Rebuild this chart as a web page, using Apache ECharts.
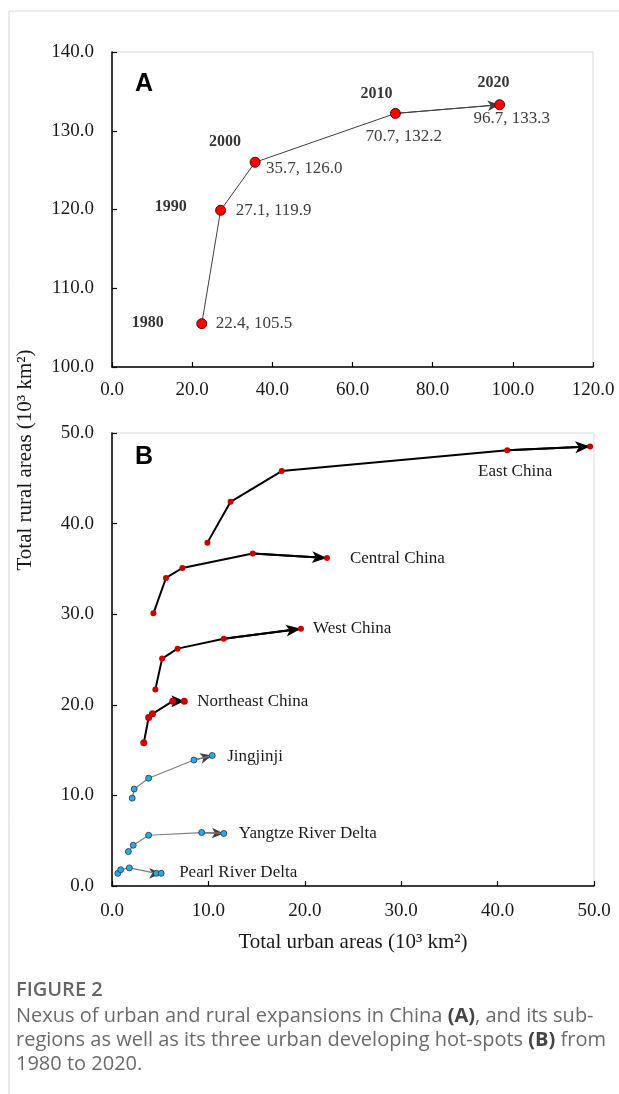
<!DOCTYPE html>
<html>
<head>
<meta charset="utf-8">
<script src="https://cdn.jsdelivr.net/npm/echarts@6/dist/echarts.min.js"></script>
<style>
  html, body { margin: 0; padding: 0; background: #fff; }
  #chart { width: 619px; height: 1094px; }
</style>
</head>
<body>
<div id="chart"></div>
<script>
// Panel A: China as a whole
const yearsA = ['1980', '1990', '2000', '2010', '2020'];
const urbanA = [22.4, 27.1, 35.7, 70.7, 96.7];
const ruralA = [105.5, 119.9, 126.0, 132.2, 133.3];

// Panel B: sub-regions and hot-spots (urban, rural)
const regionNames = ['East China', 'Central China', 'West China', 'Northeast China', 'Jingjinji', 'Yangtze River Delta', 'Pearl River Delta'];
const eastUrban = [9.9, 12.3, 17.6, 41.0, 49.6];
const eastRural = [37.9, 42.4, 45.8, 48.1, 48.5];
const centralUrban = [4.3, 5.6, 7.3, 14.6, 22.3];
const centralRural = [30.1, 34.0, 35.1, 36.7, 36.2];
const westUrban = [4.5, 5.2, 6.8, 11.6, 19.6];
const westRural = [21.7, 25.1, 26.2, 27.3, 28.4];
const northeastUrban = [3.3, 3.8, 4.2, 6.3, 7.5];
const northeastRural = [15.8, 18.6, 19.0, 20.4, 20.4];
const jingjinjiUrban = [2.1, 2.3, 3.8, 8.5, 10.4];
const jingjinjiRural = [9.7, 10.7, 11.9, 13.9, 14.4];
const yangtzeUrban = [1.7, 2.2, 3.8, 9.3, 11.6];
const yangtzeRural = [3.8, 4.5, 5.6, 5.9, 5.8];
const pearlUrban = [0.6, 0.9, 1.8, 4.6, 5.1];
const pearlRural = [1.4, 1.8, 2.0, 1.4, 1.4];

const serif = 'Liberation Serif';
const sans = 'Open Sans';

// label placement (styling only)
const yearOffsets = [[-54, -1], [-50, -3], [-30, -20], [-19, -20], [-6, -22]];
const valueOffsets = [[14, 0], [15, 0], [11, 6], [-30, 23], [-26, 14]];

function pairs(xs, ys) {
    return xs.map((x, i) => [x, ys[i]]);
}

// one line series with an arrow on its last segment
function pathSeries(xs, ys, name, opt) {
    let pts = pairs(xs, ys);
    let n = pts.length;
    let data = pts.map((p, i) => {
        if (i < n - 1 || !name) return p;
        return {
            value: p,
            label: {
                show: true,
                position: 'inside',
                align: opt.labelAlign || 'left',
                offset: opt.labelOffset,
                formatter: name,
                fontFamily: serif,
                fontSize: 17,
                color: '#1a1a1a'
            }
        };
    });
    return {
        type: 'line',
        xAxisIndex: opt.axis,
        yAxisIndex: opt.axis,
        data: data,
        z: 10,
        symbol: 'circle',
        symbolSize: opt.size,
        itemStyle: { color: opt.fill, borderColor: opt.border, borderWidth: opt.borderWidth || 0 },
        lineStyle: { color: opt.line, width: opt.width },
        markLine: {
            silent: true,
            z: 5,
            symbol: ['none', 'arrow'],
            symbolSize: opt.arrow,
            label: { show: false },
            lineStyle: { color: opt.arrowColor, width: opt.width, type: 'solid' },
            data: [[{ coord: pts[n - 2] }, { coord: pts[n - 1] }]]
        }
    };
}

const axisLineStyle = { show: true, onZero: false, lineStyle: { color: '#000', width: 1.5 } };
const tickStyle = { show: true, inside: true, length: 5, lineStyle: { color: '#000', width: 1.2 } };
const tickLabel = { fontFamily: serif, fontSize: 19, color: '#1a1a1a', formatter: v => v.toFixed(1) };

let chart = echarts.init(document.getElementById('chart'), null, { renderer: 'canvas' });

let option = {
    animation: false,
    backgroundColor: '#fff',
    grid: [
        { left: 112, top: 52, width: 481, height: 315, show: true, borderColor: '#d9d9d9', borderWidth: 1, backgroundColor: 'transparent' },
        { left: 112, top: 433, width: 482, height: 453, show: true, borderColor: '#d9d9d9', borderWidth: 1, backgroundColor: 'transparent' }
    ],
    xAxis: [
        {
            gridIndex: 0, type: 'value', min: 0, max: 120, interval: 20,
            axisLine: axisLineStyle, axisTick: tickStyle, splitLine: { show: false },
            axisLabel: Object.assign({ margin: 14 }, tickLabel)
        },
        {
            gridIndex: 1, type: 'value', min: 0, max: 50, interval: 10,
            axisLine: axisLineStyle, axisTick: tickStyle, splitLine: { show: false },
            axisLabel: Object.assign({ margin: 16 }, tickLabel),
            name: 'Total urban areas (10³ km²)', nameLocation: 'middle', nameGap: 46,
            nameTextStyle: { fontFamily: serif, fontSize: 21, color: '#1a1a1a' }
        }
    ],
    yAxis: [
        {
            gridIndex: 0, type: 'value', min: 100, max: 140, interval: 10,
            axisLine: axisLineStyle, axisTick: tickStyle, splitLine: { show: false },
            axisLabel: Object.assign({ margin: 18 }, tickLabel)
        },
        {
            gridIndex: 1, type: 'value', min: 0, max: 50, interval: 10,
            axisLine: axisLineStyle, axisTick: tickStyle, splitLine: { show: false },
            axisLabel: Object.assign({ margin: 18 }, tickLabel)
        }
    ],
    graphic: [
        { type: 'line', shape: { x1: 9, y1: 11, x2: 619, y2: 11 }, style: { stroke: '#d6d6d6', lineWidth: 1 } },
        { type: 'line', shape: { x1: 9, y1: 11, x2: 9, y2: 1094 }, style: { stroke: '#d6d6d6', lineWidth: 1 } },
        { type: 'text', left: 135, top: 72, style: { text: 'A', font: 'bold 25px "Liberation Sans"', fill: '#000' } },
        { type: 'text', left: 135, top: 445, style: { text: 'B', font: 'bold 25px "Liberation Sans"', fill: '#000' } },
        {
            type: 'text', x: 25, y: 460, rotation: Math.PI / 2,
            style: { text: 'Total rural areas (10³ km²)', font: '21px "Liberation Serif"', fill: '#1a1a1a', align: 'center', verticalAlign: 'middle' }
        },
        { type: 'text', left: 16, top: 978, style: { text: 'FIGURE 2', font: '600 20px "Open Sans"', fill: '#666', lineHeight: 24 } },
        {
            type: 'text', left: 16, top: 1004,
            style: {
                text: 'Nexus of urban and rural expansions in China {b|(A)}, and its sub-\nregions as well as its three urban developing hot-spots {b|(B)} from\n1980 to 2020.',
                font: '20px "Open Sans"', fill: '#6b6b6b', lineHeight: 24,
                rich: { b: { fontFamily: sans, fontSize: 20, fontWeight: 'bold', fill: '#444', lineHeight: 24 } }
            }
        }
    ],
    series: [
        // Panel A path
        {
            type: 'line', xAxisIndex: 0, yAxisIndex: 0, z: 10,
            data: pairs(urbanA, ruralA).map((p, i) => ({
                value: p,
                label: { offset: valueOffsets[i] }
            })),
            symbol: 'circle', symbolSize: 10,
            itemStyle: { color: '#ff0000', borderColor: '#5a0000', borderWidth: 1 },
            lineStyle: { color: '#404040', width: 1 },
            label: {
                show: true, position: 'inside', align: 'left',
                formatter: p => p.value[0].toFixed(1) + ', ' + p.value[1].toFixed(1),
                fontFamily: serif, fontSize: 17, color: '#404040'
            },
            markLine: {
                silent: true, z: 5,
                symbol: ['none', 'arrow'], symbolSize: [8, 12],
                label: { show: false },
                lineStyle: { color: '#404040', width: 1, type: 'solid' },
                data: [[{ coord: [urbanA[3], ruralA[3]] }, { coord: [urbanA[4], ruralA[4]] }]]
            }
        },
        // Panel A year labels
        {
            type: 'scatter', xAxisIndex: 0, yAxisIndex: 0, z: 11, silent: true,
            data: pairs(urbanA, ruralA).map((p, i) => ({
                value: p,
                label: { offset: yearOffsets[i] }
            })),
            symbolSize: 1,
            itemStyle: { color: 'transparent' },
            label: {
                show: true, position: 'inside', align: 'center',
                formatter: p => yearsA[p.dataIndex],
                fontFamily: serif, fontSize: 16, fontWeight: 'bold', color: '#000'
            }
        },
        // Panel B regions
        pathSeries(eastUrban, eastRural, regionNames[0], {
            axis: 1, size: 6, fill: '#cc0000', line: '#000', width: 2, arrow: [9, 15], arrowColor: '#000',
            labelAlign: 'center', labelOffset: [-75, 25]
        }),
        pathSeries(centralUrban, centralRural, regionNames[1], {
            axis: 1, size: 6, fill: '#cc0000', line: '#000', width: 2, arrow: [9, 15], arrowColor: '#000',
            labelOffset: [23, 1]
        }),
        pathSeries(westUrban, westRural, regionNames[2], {
            axis: 1, size: 6, fill: '#cc0000', line: '#000', width: 2, arrow: [9, 15], arrowColor: '#000',
            labelOffset: [12, 0]
        }),
        pathSeries(northeastUrban, northeastRural, regionNames[3], {
            axis: 1, size: 7, fill: '#cc0000', line: '#000', width: 2, arrow: [9, 13], arrowColor: '#000',
            labelOffset: [13, 0]
        }),
        pathSeries(jingjinjiUrban, jingjinjiRural, regionNames[4], {
            axis: 1, size: 6, fill: '#29aae2', border: '#1d3550', borderWidth: 0.8, line: '#808080', width: 1.2, arrow: [8, 12], arrowColor: '#404040',
            labelOffset: [15, 1]
        }),
        pathSeries(yangtzeUrban, yangtzeRural, regionNames[5], {
            axis: 1, size: 6, fill: '#29aae2', border: '#1d3550', borderWidth: 0.8, line: '#808080', width: 1.2, arrow: [8, 12], arrowColor: '#404040',
            labelOffset: [15, 0]
        }),
        pathSeries(pearlUrban, pearlRural, regionNames[6], {
            axis: 1, size: 6, fill: '#29aae2', border: '#1d3550', borderWidth: 0.8, line: '#808080', width: 1.2, arrow: [8, 12], arrowColor: '#404040',
            labelOffset: [18, -1]
        })
    ]
};

chart.setOption(option);
</script>
</body>
</html>
